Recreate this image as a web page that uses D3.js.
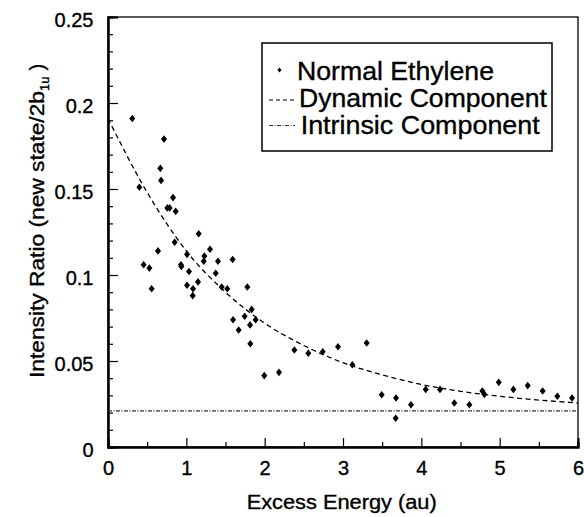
<!DOCTYPE html>
<html>
<head>
<meta charset="utf-8">
<script src="https://cdn.jsdelivr.net/npm/d3@7/dist/d3.min.js"></script>
<style>
  html, body { margin: 0; padding: 0; background: #fff; }
  svg { display: block; font-family: "Liberation Sans", Arial, Helvetica, sans-serif; }
  svg text { stroke: #000; stroke-width: 0.35px; }
</style>
</head>
<body>
<svg id="chart" width="584" height="517"></svg>
<script>
// ---- data ----
const ethyleneX = [0.31, 0.40, 0.455, 0.528, 0.557, 0.638, 0.668, 0.677, 0.715, 0.757,
  0.787, 0.83, 0.851, 0.864, 0.932, 0.936, 1.009, 1.009, 1.034, 1.081,
  1.085, 1.149, 1.158, 1.222, 1.23, 1.302, 1.375, 1.404, 1.451, 1.523,
  1.591, 1.596, 1.668, 1.745, 1.779, 1.813, 1.817, 1.834, 1.885, 1.995,
  2.183, 2.379, 2.557, 2.741, 2.936, 3.119, 3.302, 3.494, 3.677, 3.673,
  3.868, 4.056, 4.238, 4.421, 4.613, 4.779, 4.804, 4.988, 5.175, 5.358,
  5.549, 5.736, 5.924];
const ethyleneY = [0.191, 0.151, 0.106, 0.104, 0.092, 0.114, 0.162, 0.155, 0.179, 0.139,
  0.139, 0.145, 0.119, 0.137, 0.106, 0.105, 0.112, 0.094, 0.102, 0.088,
  0.092, 0.096, 0.124, 0.108, 0.111, 0.115, 0.101, 0.108, 0.093, 0.092,
  0.109, 0.074, 0.068, 0.076, 0.093, 0.071, 0.060, 0.080, 0.074, 0.0415,
  0.0434, 0.0564, 0.0545, 0.0554, 0.0583, 0.0478, 0.0605, 0.0304, 0.0285, 0.0167,
  0.0246, 0.0335, 0.0335, 0.0256, 0.0246, 0.0326, 0.0306, 0.0376, 0.0335, 0.0357,
  0.0326, 0.0295, 0.0285];
const dynamicX = [0, 0.5, 1, 1.5, 2, 2.5, 3, 3.5, 4, 4.5, 5, 5.5, 6];
const dynamicY = [0.191, 0.148, 0.114, 0.090, 0.072, 0.059, 0.049, 0.042, 0.0364, 0.0324, 0.0295, 0.0273, 0.0256];
const intrinsicY = [0.021, 0.021];
const intrinsicX = [0, 6];
const xTickValues = [0, 1, 2, 3, 4, 5, 6];
const xTickLabels = ["0", "1", "2", "3", "4", "5", "6"];
const yTickValues = [0, 0.05, 0.1, 0.15, 0.2, 0.25];
const yTickLabels = ["0", "0.05", "0.1", "0.15", "0.2", "0.25"];
const legendLabels = ["Normal Ethylene", "Dynamic Component", "Intrinsic Component"];

// ---- layout ----
const L = 108, R = 578, T = 17, B = 447;
const svg = d3.select("#chart");
const x = d3.scaleLinear().domain([0, 6]).range([L, R]);
const y = d3.scaleLinear().domain([0, 0.25]).range([B, T]);

// frame
svg.append("rect").attr("x", L).attr("y", T).attr("width", R - L).attr("height", B - T)
  .attr("fill", "none").attr("stroke", "#000").attr("stroke-width", 1.3);

// minor ticks
const xMinor = svg.append("g").attr("transform", `translate(0,${B})`)
  .call(d3.axisBottom(x).tickValues(d3.range(0.5, 6, 1)).tickSize(-5).tickFormat(""));
const yMinorVals = d3.range(0, 26).map(i => i / 100).filter(v => Math.round(v * 100) % 5 !== 0);
const yMinor = svg.append("g").attr("transform", `translate(${L},0)`)
  .call(d3.axisLeft(y).tickValues(yMinorVals).tickSize(-5).tickFormat(""));

// major ticks
const xAxis = svg.append("g").attr("transform", `translate(0,${B})`)
  .call(d3.axisBottom(x).tickValues(xTickValues).tickSize(-9)
    .tickFormat((d, i) => xTickLabels[i]));
xAxis.selectAll("text").attr("y", 28).attr("dy", 0).attr("font-size", 20)
  .attr("fill", "#000").attr("font-family", "'Liberation Sans', Arial, sans-serif");

const yAxis = svg.append("g").attr("transform", `translate(${L},0)`)
  .call(d3.axisLeft(y).tickValues(yTickValues).tickSize(-10)
    .tickFormat((d, i) => yTickLabels[i]));
yAxis.selectAll("text").attr("x", -14.5).attr("dy", 0).attr("y", 9.5).attr("font-size", 20)
  .attr("fill", "#000").attr("font-family", "'Liberation Sans', Arial, sans-serif");

[xMinor, yMinor, xAxis, yAxis].forEach(g => {
  g.select(".domain").attr("stroke", "#000").attr("stroke-width", 2);
  g.selectAll(".tick line").attr("stroke", "#000").attr("stroke-width", 1.2);
});

// intrinsic component
const line = d3.line().x(d => x(d[0])).y(d => y(d[1]));
svg.append("path")
  .datum(intrinsicX.map((v, i) => [v, intrinsicY[i]]))
  .attr("d", line).attr("fill", "none").attr("stroke", "#333")
  .attr("stroke-width", 1.1).attr("stroke-dasharray", "4,1.5,1,1.5");

// dynamic component
svg.append("path")
  .datum(dynamicX.map((v, i) => [v, dynamicY[i]]))
  .attr("d", line.curve(d3.curveMonotoneX)).attr("fill", "none").attr("stroke", "#000")
  .attr("stroke-width", 1.3).attr("stroke-dasharray", "5,3.5");

// data points (diamonds)
const diamond = (cx, cy, w, h) => `M${cx},${cy - h}L${cx + w},${cy}L${cx},${cy + h}L${cx - w},${cy}Z`;
svg.append("g").selectAll("path")
  .data(ethyleneX.map((v, i) => [v, ethyleneY[i]]))
  .join("path")
  .attr("d", d => diamond(x(d[0]), y(d[1]), 3, 3.8))
  .attr("fill", "#000");

// legend
const lg = svg.append("g");
lg.append("rect").attr("x", 262).attr("y", 43).attr("width", 290).attr("height", 108)
  .attr("fill", "#fff").attr("stroke", "#000").attr("stroke-width", 1.5);
lg.append("path").attr("d", diamond(279.5, 70, 2, 2.6)).attr("fill", "#000");
lg.append("line").attr("x1", 269).attr("x2", 295).attr("y1", 100).attr("y2", 100)
  .attr("stroke", "#000").attr("stroke-width", 1.2).attr("stroke-dasharray", "4,3");
lg.append("line").attr("x1", 269).attr("x2", 295).attr("y1", 125.5).attr("y2", 125.5)
  .attr("stroke", "#333").attr("stroke-width", 1.1).attr("stroke-dasharray", "4,1.5,1,1.5");
const legendPos = [[297, 79.5, 197], [299, 106.7, 248], [300.7, 133.5, 239]];
legendLabels.forEach((t, i) => {
  lg.append("text").attr("x", legendPos[i][0]).attr("y", legendPos[i][1])
    .attr("font-size", 25).attr("fill", "#000")
    .attr("textLength", legendPos[i][2]).attr("lengthAdjust", "spacingAndGlyphs")
    .text(t);
});

// axis titles
svg.append("text").attr("x", 341.7).attr("y", 508.5).attr("text-anchor", "middle")
  .attr("font-size", 20).attr("fill", "#000")
  .attr("textLength", 190).attr("lengthAdjust", "spacingAndGlyphs")
  .text("Excess Energy (au)");

const yt = svg.append("text").attr("transform", "translate(44,378) rotate(-90)")
  .attr("font-size", 20).attr("fill", "#000");
yt.append("tspan").attr("x", 0).attr("y", 0)
  .attr("textLength", 287).attr("lengthAdjust", "spacingAndGlyphs")
  .text("Intensity Ratio (new state/2b");
yt.append("tspan").attr("font-size", 13).attr("dy", 5).text("1u");
yt.append("tspan").attr("dy", -5).attr("dx", 6).text(")");
</script>
</body>
</html>
